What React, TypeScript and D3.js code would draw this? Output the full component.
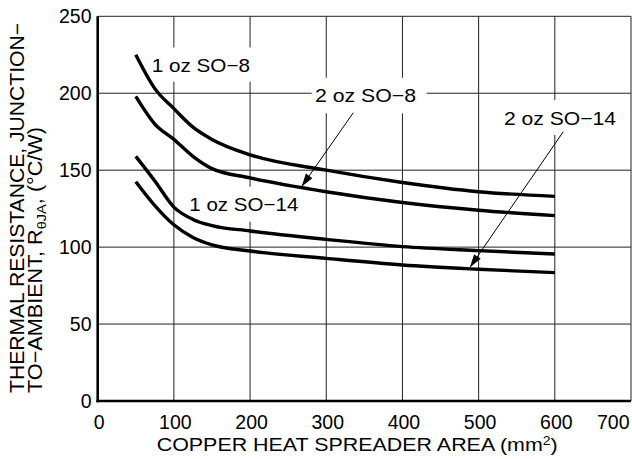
import React from "react";
import * as d3 from "d3";

const area = [50, 75, 100, 125, 150, 200, 300, 400, 500, 600];
const oz1SO8 = [225, 203, 190, 178, 170, 160, 150, 142, 136, 133];
const oz2SO8 = [198, 180, 170, 159, 151, 145, 136, 129, 124, 120.5];
const oz1SO14 = [159, 143, 126, 118, 114, 110.5, 105, 100.3, 97.7, 95.5];
const oz2SO14 = [142.5, 127, 114.5, 106.3, 101.5, 97.5, 92.7, 88.4, 85.6, 83.4];
const xTicks = [0, 100, 200, 300, 400, 500, 600, 700];
const yTicks = [0, 50, 100, 150, 200, 250];
const curveLabels = ["1 oz SO−8", "2 oz SO−8", "1 oz SO−14", "2 oz SO−14"];

const W = 632;
const H = 459;
const FONT = "'Liberation Sans', Arial, Helvetica, sans-serif";

export default function App() {
  const x = d3.scaleLinear().domain([0, 700]).range([97.7, 631]);
  const y = d3.scaleLinear().domain([0, 250]).range([401, 16.3]);
  const line = d3
    .line<number>()
    .x((_, i) => x(area[i]))
    .y((d) => y(d))
    .curve(d3.curveMonotoneX);
  const series = [oz1SO8, oz2SO8, oz1SO14, oz2SO14];

  // label boxes (white masks behind labels)
  const boxes = [
    { x0: 148, x1: 254, y0: 47.5, y1: 81.7 },
    { x0: 311.7, x1: 426.7, y0: 77.7, y1: 113.3 },
    { x0: 186, x1: 302, y0: 186.7, y1: 221.7 },
    { x0: 500, x1: 620, y0: 100, y1: 135 },
  ];
  const labelPos = [
    { x: 151.7, y: 72.3, w: 98.3 },
    { x: 315, y: 101.7, w: 101 },
    { x: 189.3, y: 210.7, w: 109 },
    { x: 504, y: 125, w: 112 },
  ];

  const arrows = [
    { x1: 353.3, y1: 112.7, x2: 301.7, y2: 186.5 },
    { x1: 563.3, y1: 131.7, x2: 470, y2: 267.3 },
  ];

  const arrowHead = (a: { x1: number; y1: number; x2: number; y2: number }) => {
    const ang = Math.atan2(a.y2 - a.y1, a.x2 - a.x1);
    const L = 13;
    const Wd = 4;
    const bx = a.x2 - L * Math.cos(ang);
    const by = a.y2 - L * Math.sin(ang);
    const px = -Math.sin(ang) * Wd;
    const py = Math.cos(ang) * Wd;
    return `M${a.x2},${a.y2}L${bx + px},${by + py}L${bx - px},${by - py}Z`;
  };

  return (
    <svg
      width={W}
      height={H}
      style={{ position: "absolute", left: 0, top: 0, background: "#fff" }}
      fontFamily={FONT}
    >
      <rect x={0} y={0} width={W} height={H} fill="#fff" />
      {/* grid */}
      {xTicks.map((t) => (
        <line key={"gx" + t} x1={x(t)} x2={x(t)} y1={y(250)} y2={y(0)} stroke="#222" strokeWidth={1} />
      ))}
      {yTicks.map((t) => (
        <line key={"gy" + t} x1={x(0)} x2={x(700)} y1={y(t)} y2={y(t)} stroke="#222" strokeWidth={1} />
      ))}
      {boxes.map((b, i) => (
        <rect key={"b" + i} x={b.x0} y={b.y0} width={b.x1 - b.x0} height={b.y1 - b.y0} fill="#fff" />
      ))}
      {/* axes */}
      <line x1={x(0)} x2={x(0)} y1={y(250)} y2={y(0) + 1.3} stroke="#000" strokeWidth={2.6} />
      <line x1={x(0) - 1.3} x2={x(700)} y1={y(0)} y2={y(0)} stroke="#000" strokeWidth={2.6} />
      {/* curves */}
      {series.map((s, i) => (
        <path key={"s" + i} d={line(s) || ""} fill="none" stroke="#000" strokeWidth={3.4} />
      ))}
      {/* arrows */}
      {arrows.map((a, i) => (
        <g key={"a" + i}>
          <line x1={a.x1} y1={a.y1} x2={a.x2} y2={a.y2} stroke="#000" strokeWidth={1} />
          <path d={arrowHead(a)} fill="#000" />
        </g>
      ))}
      {/* curve labels */}
      <g fontSize={18.5} fill="#000">
        {curveLabels.map((c, i) => (
          <text
            key={"cl" + i}
            x={labelPos[i].x}
            y={labelPos[i].y}
            textLength={labelPos[i].w}
            lengthAdjust="spacingAndGlyphs"
          >
            {c}
          </text>
        ))}
      </g>
      {/* tick labels */}
      <g fontSize={19.5} fill="#000">
        {yTicks.map((t) => (
          <text key={"yt" + t} x={91.5} y={y(t)} dy="0.36em" textAnchor="end">
            {t}
          </text>
        ))}
        {xTicks.map((t) => (
          <text
            key={"xt" + t}
            x={t === 700 ? 629.5 : x(t) + 1.5}
            y={429}
            textAnchor={t === 700 ? "end" : "middle"}
          >
            {t}
          </text>
        ))}
      </g>
      {/* axis titles */}
      <text x={156.7} y={450.5} fontSize={18.5} textLength={401} lengthAdjust="spacingAndGlyphs">
        COPPER HEAT SPREADER AREA (mm
        <tspan fontSize={12} dy={-6}>2</tspan>
        <tspan dy={6}>)</tspan>
      </text>
      <g fontSize={20}>
        <text
          transform="translate(24,393) rotate(-90)"
          textLength={370}
          lengthAdjust="spacingAndGlyphs"
        >
          THERMAL RESISTANCE, JUNCTION−
        </text>
        <text
          transform="translate(41.5,393) rotate(-90)"
          textLength={266}
          lengthAdjust="spacingAndGlyphs"
        >
          TO−AMBIENT, R
          <tspan fontSize={13.5} dy={4}>θJA</tspan>
          <tspan dy={-4}>, (°C/W)</tspan>
        </text>
      </g>
    </svg>
  );
}
